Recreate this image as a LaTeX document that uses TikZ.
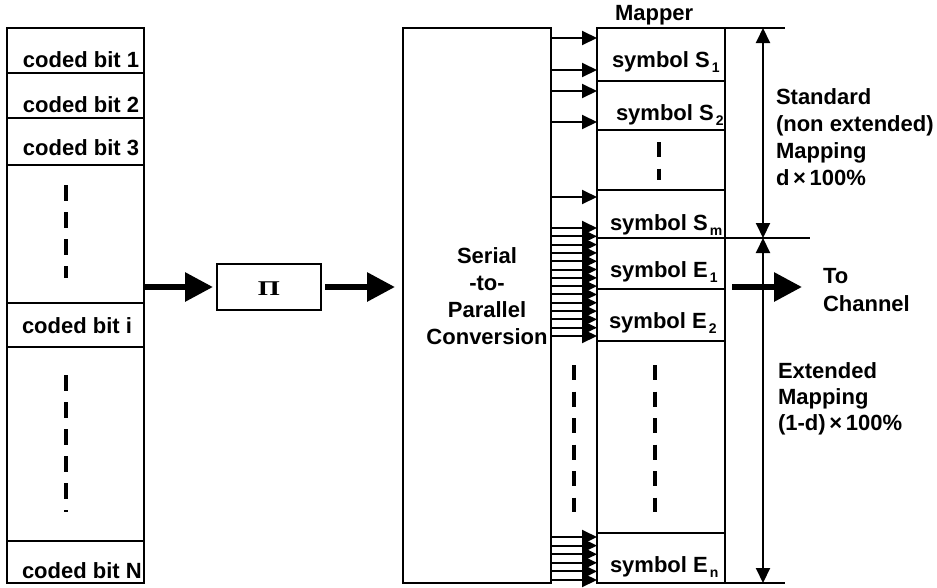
\documentclass[tikz,border=0pt]{standalone}
\usepackage{fontspec}
\setmainfont{Liberation Sans}
\newfontfamily\pifont{Liberation Serif}
\usetikzlibrary{arrows.meta}
\newcommand{\subidx}[1]{\kern2pt\raisebox{-5pt}{\fontsize{14}{14}\selectfont #1}}
\begin{document}
\begin{tikzpicture}[x=1pt,y=-1pt,
  lbl/.style={font=\fontsize{22}{27}\selectfont\bfseries, inner sep=0pt, outer sep=0pt},
  box/.style={draw, line width=1.6pt, inner sep=0pt, outer sep=0pt},
  cell/.style={line width=1.6pt},
  bigarrow/.style={line width=6pt, -{Triangle[length=28pt,width=28pt]}},
  smallarrow/.style={line width=2pt, -{Triangle[length=15pt,width=14pt]}},
  dimarrow/.style={line width=2pt, {Triangle[length=15pt,width=14pt]}-{Triangle[length=15pt,width=14pt]}},
  dashv/.style={line width=4pt, dash pattern=on 16pt off 11pt},
  dashm/.style={line width=4pt, dash pattern=on 15pt off 11.5pt}]
\fill[white] (0,0) rectangle (937,587);
\useasboundingbox (0,0) rectangle (937,587);

% left column of coded bits
\node[box, minimum width=137pt, minimum height=555pt, anchor=north west] (col) at (7,28) {};
\foreach \yy in {73,118,165,303,347,541}
  \draw[cell] (col.west |- 0,\yy) -- (col.east |- 0,\yy);
\node[lbl, anchor=base west] (b1) at (23,67) {coded bit 1};
\node[lbl, anchor=base west] (b2) at (23,112) {coded bit 2};
\node[lbl, anchor=base west] (b3) at (23,155) {coded bit 3};
\node[lbl, anchor=base west] (bi) at (22,333) {coded bit i};
\node[lbl, anchor=base west] (bN) at (22,578) {coded bit N};
\draw[dashv] (66,185) -- (66,278);
\draw[dashv] (66,375) -- (66,512);

% interleaver
\node[box, minimum width=104pt, minimum height=46pt, anchor=north west] (pi) at (217,264) {};
\node[inner sep=0pt] (pisym) at (269,289) {\scalebox{1.35}[1]{\pifont\bfseries\fontsize{21}{21}\selectfont Π}};

% serial to parallel
\node[box, minimum width=148pt, minimum height=555pt, anchor=north west] (sp) at (403,28) {};
\node[lbl, anchor=base] (sp1) at (487,263) {Serial};
\node[lbl, anchor=base] (sp2) at (487,290) {-to-};
\node[lbl, anchor=base] (sp3) at (487,317) {Parallel};
\node[lbl, anchor=base] (sp4) at (487,344) {Conversion};

% mapper
\node[box, minimum width=128pt, minimum height=555pt, anchor=north west] (map) at (597,28) {};
\node[lbl, anchor=base west] (maplbl) at (615,20) {Mapper};
\foreach \yy in {81,130,190,238,289,341,533}
  \draw[cell] (map.west |- 0,\yy) -- (map.east |- 0,\yy);
\node[lbl, anchor=base west] (s1) at (612,67) {symbol S\subidx{1}};
\node[lbl, anchor=base west] (s2) at (616,120) {symbol S\subidx{2}};
\node[lbl, anchor=base west] (sm) at (610,230) {symbol S\subidx{m}};
\node[lbl, anchor=base west] (e1) at (610,277) {symbol E\subidx{1}};
\node[lbl, anchor=base west] (e2) at (609,328) {symbol E\subidx{2}};
\node[lbl, anchor=base west] (en) at (610,572) {symbol E\subidx{n}};
\draw[dashm] (659,142) -- (659,180);
\draw[dashm] (574,365) -- (574,512);
\draw[dashm] (655,365) -- (655,512);

% big arrows
\draw[bigarrow, shorten >=4pt] (pi.west -| col.east) -- (pi.west);
\draw[bigarrow, shorten <=4pt, shorten >=8pt] (pi.east) -- (pi.east -| sp.west);

% small arrows into mapper
\foreach \yy in {38,70,91,122,197}
  \draw[smallarrow] (sp.east |- 0,\yy) -- (map.west |- 0,\yy);
\foreach \k in {0,...,13}
  \draw[smallarrow] (sp.east |- 0,{228+\k*108/13}) -- (map.west |- 0,{228+\k*108/13});
\foreach \k in {0,...,5}
  \draw[smallarrow] (sp.east |- 0,{537+\k*8.6}) -- (map.west |- 0,{537+\k*8.6});

% dimension lines
\coordinate (htop) at (785,28);
\coordinate (hmid) at (810,238);
\coordinate (hbot) at (785,583);
\draw[cell] (map.north east) -- (htop);
\draw[cell] (map.east |- hmid) -- (hmid);
\draw[cell] (map.south east) -- (hbot);
\coordinate (dtop) at (763,28);
\coordinate (dmid) at (763,238);
\coordinate (dbot) at (763,583);
\draw[dimarrow] (dtop) -- (dmid);
\draw[dimarrow] (dmid) -- (dbot);

% to channel
\coordinate (ch) at (802,287);
\draw[bigarrow, shorten <=7pt] (ch -| map.east) -- (ch);
\node[lbl, anchor=base west] (to1) at (823,283) {To};
\node[lbl, anchor=base west] (to2) at (823,311) {Channel};

% annotations
\node[lbl, anchor=base west] (st1) at (776,104) {Standard};
\node[lbl, anchor=base west] (st2) at (776,131) {(non extended)};
\node[lbl, anchor=base west] (st3) at (776,158) {Mapping};
\node[lbl, anchor=base west] (st4) at (776,185) {d\,×\,100\%};
\node[lbl, anchor=base west] (ex1) at (778,378) {Extended};
\node[lbl, anchor=base west] (ex2) at (778,404) {Mapping};
\node[lbl, anchor=base west] (ex3) at (778,430) {(1-d)\,×\,100\%};
\end{tikzpicture}
\end{document}
